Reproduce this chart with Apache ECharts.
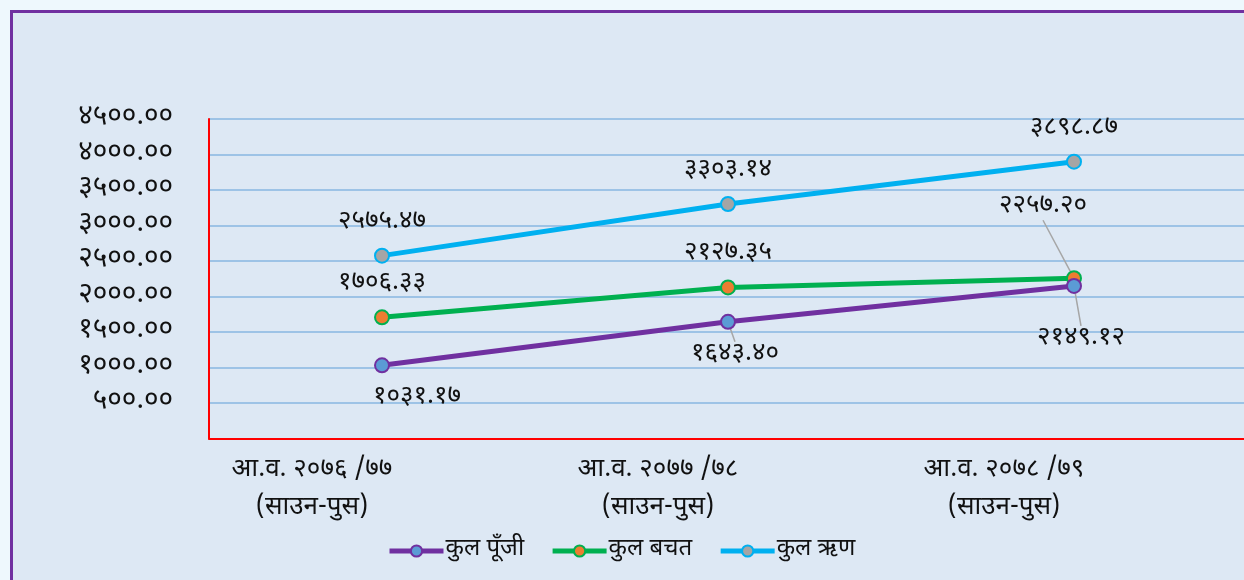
<!DOCTYPE html>
<html>
<head>
<meta charset="utf-8">
<script src="https://cdn.jsdelivr.net/npm/echarts@6/dist/echarts.min.js"></script>
<style>
  html, body { margin: 0; padding: 0; background: #eef8fd; overflow: hidden; width: 1244px; height: 580px; }
  #frame {
    position: absolute; left: 10px; top: 10px; width: 1240px; height: 580px;
    background: #dde8f4; border-top: 3px solid #7030a0; border-left: 3px solid #7030a0;
  }
  #chart { position: absolute; left: 0; top: 0; width: 1252px; height: 580px; }
</style>
</head>
<body>
<div id="frame"></div>
<div id="chart"></div>
<script>
// वर्ष (x अक्ष)
var categories = ['आ.व. २०७६ /७७\n(साउन-पुस)', 'आ.व. २०७७ /७८\n(साउन-पुस)', 'आ.व. २०७८ /७९\n(साउन-पुस)'];
// श्रृंखलाहरू
var seriesNames = ['कुल पूँजी', 'कुल बचत', 'कुल ऋण'];
var kulPunji = [1031.17, 1643.40, 2149.12];
var kulBachat = [1706.33, 2127.35, 2257.20];
var kulRin = [2575.47, 3303.14, 3898.87];

var devFont = '"Noto Sans Devanagari", "Noto Sans", "DejaVu Sans", sans-serif';

function toDev(s) {
    var d = '०१२३४५६७८९';
    return String(s).replace(/[0-9]/g, function (c) { return d[+c]; });
}

// लेबल सार्ने (dx, dy) — शृंखला अनुसार
var labelShift = [
    [[35, 0], [7, 0], [7, 20]],
    [[0, 0], [0, 0], [-31, -38]],
    [[0, 0], [0, 0], [0, 0]]
];

function makeData(values, si) {
    var out = [];
    for (var i = 0; i < values.length; i++) {
        out.push({
            value: values[i],
            labelLine: { show: si < 2 && i > 0 && (si === 0 || i === 2) }
        });
    }
    return out;
}

function makeSeries(name, values, si, lineColor, dotColor, pos) {
    return {
        name: name,
        type: 'line',
        data: makeData(values, si),
        symbol: 'circle',
        symbolSize: 14,
        lineStyle: { color: lineColor, width: 5 },
        itemStyle: { color: dotColor, borderColor: lineColor, borderWidth: 2 },
        label: {
            show: true,
            position: pos,
            distance: 12,
            color: '#111',
            fontSize: 26,
            fontFamily: devFont,
            formatter: function (p) { return toDev(p.value.toFixed(2)); }
        },
        labelLine: { show: false, lineStyle: { color: '#a6a6a6', width: 1.5 } },
        labelLayout: function (p) {
            var s = labelShift[si][p.dataIndex];
            return { dx: s[0], dy: s[1] };
        },
        emphasis: { disabled: true },
        z: 3 - si
    };
}

var myChart = echarts.init(document.getElementById('chart'));
var option = {
    backgroundColor: 'transparent',
    animation: false,
    grid: { left: 209, right: 5, top: 119, bottom: 141.5 },
    legend: {
        data: seriesNames,
        top: 534,
        left: 382,
        itemWidth: 54,
        itemHeight: 14,
        itemGap: 26,
        lineStyle: { width: 5 },
        itemStyle: { borderWidth: 2 },
        textStyle: { fontSize: 24, color: '#111', fontFamily: devFont, padding: [0, 0, 0, -3] }
    },
    xAxis: {
        type: 'category',
        data: categories,
        axisLine: { lineStyle: { color: '#ff0000', width: 2 } },
        axisTick: { show: false },
        axisLabel: {
            fontSize: 26,
            lineHeight: 38,
            color: '#111',
            fontFamily: devFont,
            margin: 14,
            padding: [0, 140, 0, 0]
        }
    },
    yAxis: {
        type: 'value',
        min: 0,
        max: 4500,
        interval: 500,
        axisLine: { show: true, lineStyle: { color: '#ff0000', width: 2 } },
        axisTick: { show: false },
        splitLine: { lineStyle: { color: '#9dc3e6', width: 2 } },
        axisLabel: {
            showMinLabel: false,
            margin: 36,
            fontSize: 28,
            color: '#111',
            fontFamily: devFont,
            formatter: function (v) { return v === 0 ? '' : toDev(v.toFixed(2)); }
        }
    },
    series: [
        makeSeries(seriesNames[0], kulPunji, 0, '#7030a0', '#5b9bd5', 'bottom'),
        makeSeries(seriesNames[1], kulBachat, 1, '#00b050', '#ed7d31', 'top'),
        makeSeries(seriesNames[2], kulRin, 2, '#00b0f0', '#a5a5a5', 'top')
    ]
};
myChart.setOption(option);
</script>
</body>
</html>
